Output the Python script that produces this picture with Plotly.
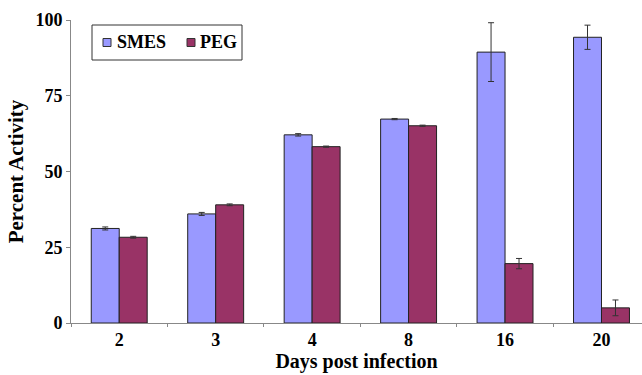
import plotly.graph_objects as go

days = ["2", "3", "4", "8", "16", "20"]
smes = [31.2, 36.0, 62.1, 67.3, 89.4, 94.3]
smes_err = [0.5, 0.5, 0.4, 0.2, 9.7, 4.0]
peg = [28.3, 39.0, 58.2, 65.1, 19.6, 5.0]
peg_err = [0.3, 0.3, 0.2, 0.2, 1.7, 2.6]
series_names = ["SMES", "PEG"]
series_colors = ["#9999FF", "#993366"]

font = dict(family="Liberation Serif", color="black", weight="bold")

fig = go.Figure()
for name, vals, errs, col in zip(series_names, [smes, peg], [smes_err, peg_err], series_colors):
    fig.add_trace(go.Bar(
        x=days, y=vals, name=name,
        marker=dict(color=col, line=dict(color="#222222", width=1)),
        error_y=dict(type="data", array=errs, color="#333333", thickness=1, width=3),
    ))

# Plot area in pixels: x 71..642, y 20..323
L, T, W, H = 71, 20, 571, 303
def px(x):
    return (x - L) / W
def py(y):
    return 1 - (y - T) / H

shapes = [dict(type="rect", xref="paper", yref="paper",
               x0=px(92), x1=px(242), y0=py(60), y1=py(25),
               line=dict(color="#333333", width=1), fillcolor="white", layer="above")]
annotations = []
legend_items = [(103, 115), (187, 198)]
for (mx, tx), name, col in zip(legend_items, series_names, series_colors):
    shapes.append(dict(type="rect", xref="paper", yref="paper",
                       x0=px(mx), x1=px(mx + 8), y0=py(46.5), y1=py(38.5),
                       line=dict(color="#333333", width=1), fillcolor=col, layer="above"))
    annotations.append(dict(xref="paper", yref="paper", x=px(tx), y=py(42.5),
                            text=name, showarrow=False, xanchor="left", yanchor="middle",
                            font=dict(size=18, **font)))

fig.update_layout(
    width=642, height=375,
    margin=dict(l=L, r=0, t=T, b=375 - T - H),
    paper_bgcolor="white", plot_bgcolor="white",
    barmode="group", bargap=0.42, bargroupgap=0,
    font=dict(family="Liberation Serif", size=14, color="black"),
    showlegend=False,
    shapes=shapes,
    annotations=annotations,
)
fig.update_xaxes(
    type="category", range=[-0.5, 5.42],
    showline=True, linecolor="#888888", linewidth=1,
    ticks="outside", tickson="boundaries", ticklen=3, tickcolor="#888888",
    tickfont=dict(size=18, **font),
    title=dict(text="Days post infection", font=dict(size=20, **font), standoff=4),
    showgrid=False,
)
fig.update_yaxes(
    range=[0, 100], tickvals=[0, 25, 50, 75, 100],
    showline=True, linecolor="#888888", linewidth=1,
    ticks="outside", ticklen=4, tickcolor="#888888",
    tickfont=dict(size=18, **font),
    title=dict(text="Percent Activity", font=dict(size=21, **font), standoff=6),
    showgrid=False, zeroline=False,
)

fig.write_html("out.html")
